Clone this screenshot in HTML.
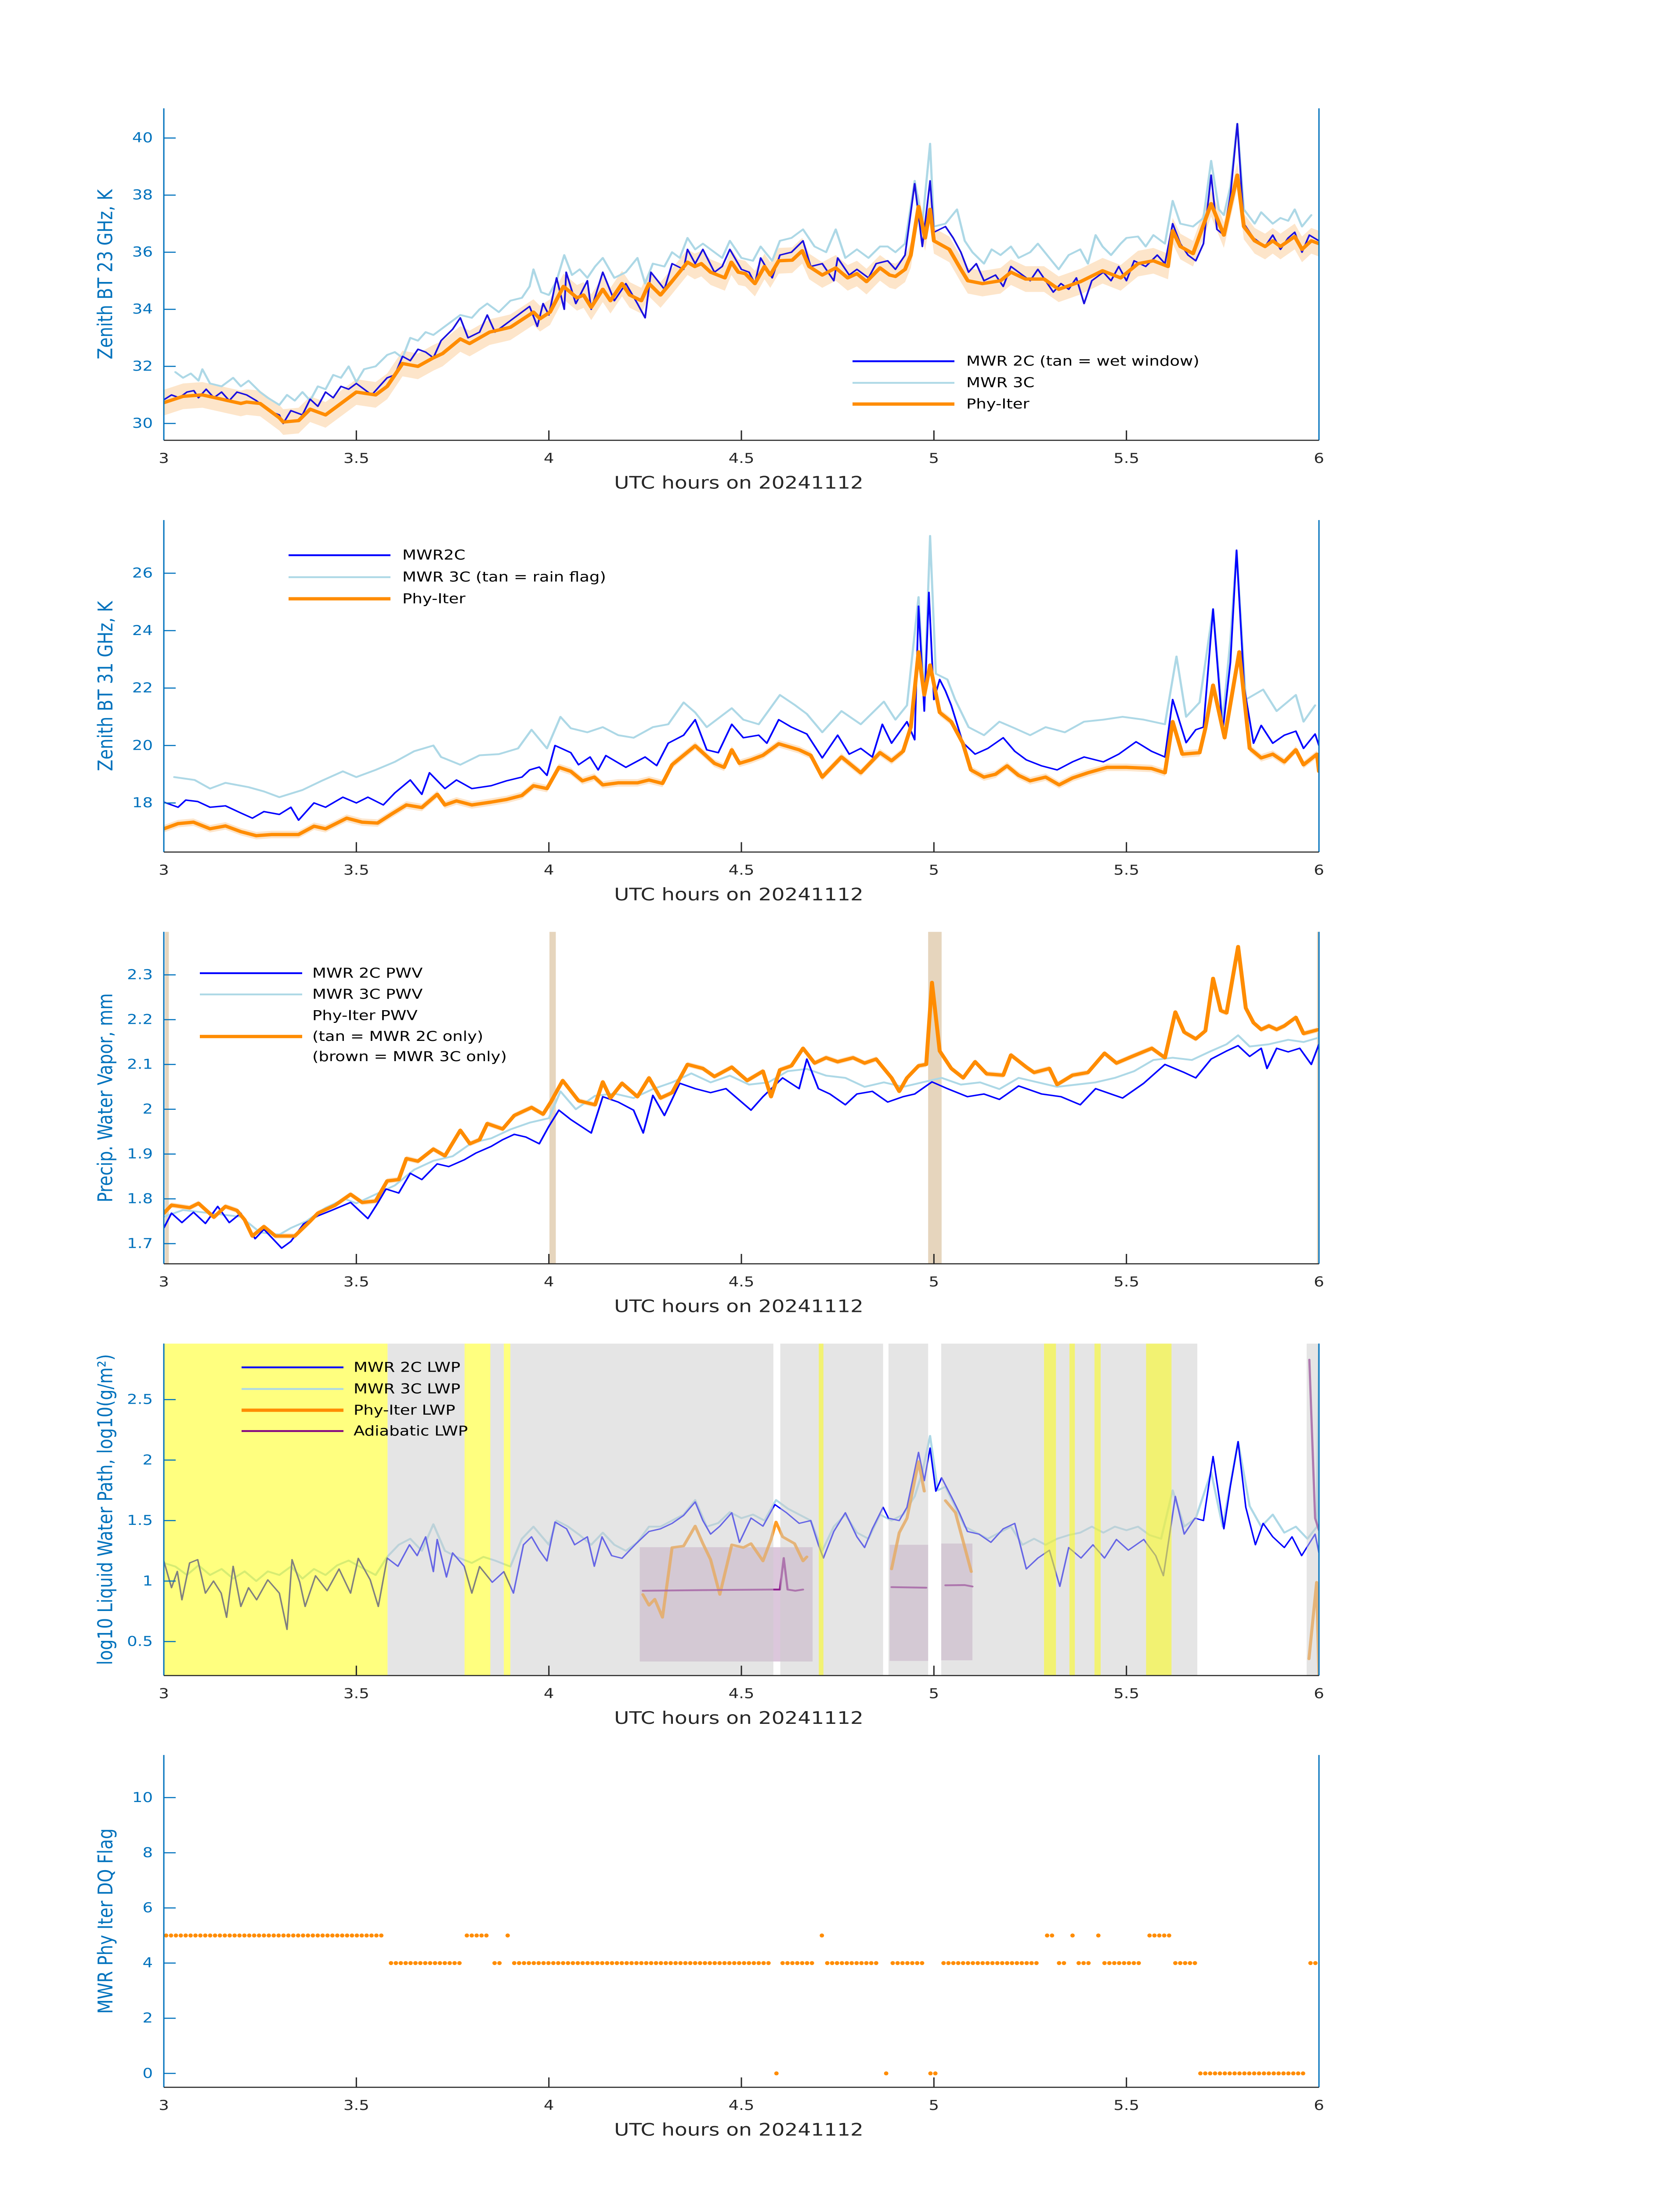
<!DOCTYPE html>
<html><head><meta charset="utf-8"><meta name="viewport" content="width=3825"><title>MWR Phy-Iter comparison 20241112</title>
<style>html,body{margin:0;padding:0;background:#fff;width:100%;height:100%;overflow:hidden}svg{display:block;position:fixed;left:0;top:0;width:100vw;height:100vh}text{font-family:"DejaVu Sans","Liberation Sans",sans-serif}</style>
</head><body>
<svg id="fig" xmlns="http://www.w3.org/2000/svg" viewBox="0 0 3825 6000" preserveAspectRatio="none"><rect width="3825" height="6000" fill="#fff"/></svg>
<script>
// ---------- shared axis ----------
const xTicks = [3, 3.5, 4, 4.5, 5, 5.5, 6];
const xTickLabels = ['3', '3.5', '4', '4.5', '5', '5.5', '6'];

// ---------- Panel 1: BT 23 GHz ----------
const p1Ticks = [30, 32, 34, 36, 38, 40];
const p1TickLabels = ['30', '32', '34', '36', '38', '40'];
const p1Blue = [[3.0,30.83],[3.02,31.0],[3.04,30.9],[3.06,31.1],[3.078,31.15],[3.09,30.9],[3.11,31.2],[3.13,30.9],[3.15,31.1],[3.17,30.8],[3.19,31.1],[3.215,31.0],[3.24,30.8],[3.26,30.6],[3.28,30.4],[3.3,30.3],[3.31,30.0],[3.33,30.45],[3.36,30.3],[3.38,30.85],[3.4,30.6],[3.42,31.1],[3.44,30.9],[3.46,31.3],[3.48,31.2],[3.5,31.4],[3.52,31.2],[3.54,31.0],[3.56,31.3],[3.58,31.6],[3.6,31.7],[3.62,32.35],[3.64,32.2],[3.66,32.6],[3.68,32.5],[3.7,32.3],[3.72,32.9],[3.75,33.3],[3.77,33.7],[3.79,33.0],[3.82,33.2],[3.84,33.8],[3.86,33.2],[3.9,33.6],[3.93,33.9],[3.95,34.1],[3.97,33.4],[3.985,34.2],[4.0,33.8],[4.02,35.1],[4.04,34.0],[4.045,35.3],[4.07,34.2],[4.1,35.0],[4.11,34.0],[4.14,35.3],[4.17,34.3],[4.2,34.9],[4.23,34.2],[4.25,33.7],[4.265,35.3],[4.3,34.7],[4.32,35.6],[4.35,35.4],[4.36,36.1],[4.38,35.6],[4.4,36.1],[4.43,35.3],[4.45,35.5],[4.47,36.1],[4.5,35.4],[4.52,35.3],[4.535,34.9],[4.55,35.8],[4.58,35.1],[4.6,35.9],[4.63,36.0],[4.66,36.4],[4.68,35.5],[4.71,35.6],[4.74,35.0],[4.75,35.8],[4.78,35.2],[4.8,35.4],[4.83,35.1],[4.85,35.6],[4.88,35.7],[4.9,35.4],[4.925,35.9],[4.95,38.4],[4.97,36.2],[4.99,38.5],[5.0,36.7],[5.03,36.9],[5.05,36.5],[5.07,36.0],[5.09,35.3],[5.11,35.6],[5.13,35.0],[5.16,35.2],[5.18,34.8],[5.2,35.5],[5.22,35.3],[5.25,35.0],[5.27,35.4],[5.29,35.0],[5.31,34.6],[5.33,34.9],[5.35,34.7],[5.37,35.1],[5.39,34.2],[5.41,35.0],[5.44,35.3],[5.46,35.0],[5.48,35.5],[5.5,35.0],[5.52,35.7],[5.55,35.5],[5.58,35.9],[5.6,35.6],[5.62,37.0],[5.64,36.3],[5.66,35.9],[5.68,35.7],[5.7,36.3],[5.72,38.7],[5.735,36.8],[5.753,36.6],[5.77,38.0],[5.788,40.5],[5.805,37.0],[5.83,36.5],[5.86,36.2],[5.88,36.6],[5.9,36.1],[5.92,36.5],[5.937,36.7],[5.956,36.0],[5.975,36.6],[6.0,36.4]];
const p1Light = [[3.03,31.8],[3.05,31.6],[3.07,31.75],[3.09,31.5],[3.1,31.9],[3.12,31.4],[3.15,31.3],[3.18,31.6],[3.2,31.3],[3.22,31.5],[3.25,31.1],[3.27,30.9],[3.3,30.65],[3.32,31.0],[3.34,30.8],[3.36,31.1],[3.38,30.8],[3.4,31.3],[3.42,31.2],[3.44,31.7],[3.46,31.6],[3.48,32.0],[3.5,31.45],[3.52,31.9],[3.55,32.0],[3.58,32.4],[3.6,32.5],[3.62,32.3],[3.64,33.0],[3.66,32.9],[3.68,33.2],[3.7,33.1],[3.72,33.3],[3.75,33.6],[3.77,33.8],[3.8,33.7],[3.82,34.0],[3.84,34.2],[3.87,33.9],[3.9,34.3],[3.93,34.4],[3.95,34.8],[3.96,35.4],[3.98,34.6],[4.0,34.5],[4.02,35.0],[4.04,35.9],[4.06,35.2],[4.08,35.4],[4.1,35.1],[4.12,35.5],[4.14,35.8],[4.17,35.1],[4.2,35.3],[4.23,35.8],[4.25,34.9],[4.27,35.6],[4.3,35.5],[4.32,36.0],[4.34,35.8],[4.36,36.5],[4.38,36.1],[4.4,36.3],[4.43,36.0],[4.45,35.8],[4.47,36.4],[4.5,35.8],[4.53,35.7],[4.55,36.2],[4.58,35.7],[4.6,36.4],[4.63,36.5],[4.66,36.8],[4.69,36.2],[4.72,36.0],[4.745,36.8],[4.77,35.8],[4.8,36.1],[4.83,35.8],[4.86,36.2],[4.88,36.2],[4.9,36.0],[4.925,36.3],[4.95,38.5],[4.97,37.0],[4.99,39.8],[5.0,36.9],[5.03,37.0],[5.06,37.5],[5.08,36.4],[5.1,36.0],[5.13,35.6],[5.15,36.1],[5.173,35.9],[5.2,36.2],[5.22,35.8],[5.25,36.0],[5.27,36.3],[5.3,35.8],[5.324,35.4],[5.35,35.9],[5.38,36.1],[5.4,35.6],[5.42,36.6],[5.438,36.2],[5.46,35.9],[5.485,36.3],[5.5,36.5],[5.53,36.55],[5.55,36.2],[5.57,36.6],[5.6,36.3],[5.62,37.8],[5.64,37.0],[5.673,36.9],[5.7,37.2],[5.72,39.2],[5.74,37.5],[5.753,37.3],[5.77,38.3],[5.788,40.5],[5.805,37.5],[5.833,37.0],[5.85,37.4],[5.88,37.0],[5.9,37.2],[5.92,37.1],[5.937,37.5],[5.956,36.9],[5.98,37.3]];
const p1Orange = [[3.0,30.73],[3.05,30.95],[3.1,31.0],[3.15,30.85],[3.2,30.7],[3.215,30.75],[3.25,30.7],[3.3,30.2],[3.31,30.05],[3.35,30.1],[3.38,30.5],[3.42,30.3],[3.45,30.6],[3.5,31.1],[3.55,31.0],[3.58,31.3],[3.62,32.1],[3.66,32.0],[3.7,32.3],[3.724,32.45],[3.77,32.96],[3.794,32.8],[3.846,33.2],[3.9,33.37],[3.96,33.9],[3.977,33.67],[4.003,33.9],[4.038,34.8],[4.073,34.4],[4.09,34.5],[4.11,34.07],[4.14,34.7],[4.16,34.3],[4.19,34.9],[4.21,34.5],[4.24,34.3],[4.26,34.9],[4.29,34.5],[4.318,34.95],[4.36,35.65],[4.379,35.5],[4.396,35.6],[4.42,35.3],[4.457,35.1],[4.474,35.65],[4.492,35.3],[4.51,35.25],[4.535,34.9],[4.56,35.5],[4.575,35.2],[4.597,35.7],[4.632,35.72],[4.658,36.05],[4.676,35.5],[4.71,35.2],[4.745,35.45],[4.776,35.1],[4.8,35.25],[4.825,34.97],[4.86,35.45],[4.885,35.2],[4.9,35.15],[4.925,35.4],[4.94,35.9],[4.96,37.6],[4.977,36.5],[4.99,37.5],[5.0,36.4],[5.04,36.1],[5.07,35.4],[5.088,35.0],[5.126,34.9],[5.173,35.0],[5.2,35.3],[5.238,35.06],[5.286,35.06],[5.324,34.7],[5.381,34.97],[5.438,35.35],[5.485,35.1],[5.53,35.6],[5.57,35.7],[5.608,35.5],[5.62,36.75],[5.64,36.2],[5.673,35.95],[5.72,37.7],[5.753,36.6],[5.788,38.7],[5.805,36.9],[5.833,36.4],[5.86,36.2],[5.88,36.4],[5.9,36.2],[5.937,36.55],[5.956,36.1],[5.98,36.4],[6.0,36.3]];

// ---------- Panel 2: BT 31 GHz ----------
const p2Ticks = [18, 20, 22, 24, 26];
const p2TickLabels = ['18', '20', '22', '24', '26'];
const p2Blue = [[3.0,18.03],[3.037,17.85],[3.057,18.1],[3.088,18.05],[3.12,17.85],[3.16,17.9],[3.2,17.65],[3.23,17.47],[3.26,17.7],[3.3,17.6],[3.33,17.85],[3.35,17.4],[3.39,18.0],[3.42,17.85],[3.465,18.2],[3.5,18.0],[3.53,18.2],[3.57,17.93],[3.6,18.35],[3.64,18.8],[3.67,18.3],[3.69,19.05],[3.73,18.5],[3.76,18.8],[3.8,18.5],[3.85,18.6],[3.89,18.77],[3.93,18.9],[3.95,19.15],[3.975,19.25],[3.995,18.96],[4.016,20.0],[4.057,19.75],[4.077,19.33],[4.107,19.6],[4.128,19.15],[4.148,19.65],[4.2,19.24],[4.25,19.6],[4.28,19.3],[4.31,20.08],[4.35,20.36],[4.38,20.9],[4.41,19.85],[4.44,19.75],[4.475,20.74],[4.505,20.27],[4.545,20.36],[4.566,20.08],[4.597,20.9],[4.63,20.64],[4.67,20.4],[4.71,19.57],[4.75,20.36],[4.78,19.7],[4.81,19.9],[4.84,19.6],[4.866,20.74],[4.89,20.08],[4.93,20.83],[4.95,20.2],[4.96,24.85],[4.975,21.2],[4.987,25.33],[5.0,21.6],[5.015,22.3],[5.03,21.9],[5.045,21.4],[5.075,20.1],[5.107,19.7],[5.14,19.9],[5.18,20.27],[5.21,19.8],[5.24,19.5],[5.28,19.29],[5.32,19.15],[5.36,19.43],[5.39,19.6],[5.44,19.43],[5.48,19.7],[5.525,20.13],[5.565,19.8],[5.6,19.6],[5.62,21.6],[5.655,20.1],[5.68,20.55],[5.7,20.64],[5.725,24.75],[5.75,20.5],[5.77,22.9],[5.786,26.8],[5.806,22.0],[5.83,20.08],[5.85,20.7],[5.88,20.08],[5.91,20.36],[5.94,20.5],[5.96,19.9],[5.99,20.4],[6.0,20.0]];
const p2Light = [[3.027,18.9],[3.08,18.8],[3.12,18.5],[3.16,18.7],[3.22,18.55],[3.26,18.4],[3.3,18.2],[3.36,18.45],[3.41,18.77],[3.465,19.1],[3.5,18.9],[3.55,19.15],[3.6,19.43],[3.65,19.8],[3.7,20.0],[3.72,19.6],[3.77,19.33],[3.82,19.66],[3.87,19.7],[3.92,19.9],[3.955,20.55],[3.995,19.9],[4.03,21.0],[4.057,20.6],[4.1,20.46],[4.14,20.64],[4.18,20.36],[4.22,20.27],[4.27,20.64],[4.31,20.74],[4.35,21.5],[4.38,21.15],[4.41,20.64],[4.475,21.3],[4.505,20.9],[4.545,20.74],[4.6,21.76],[4.64,21.4],[4.67,21.1],[4.71,20.46],[4.76,21.2],[4.81,20.74],[4.87,21.53],[4.9,20.9],[4.93,21.4],[4.96,25.17],[4.975,21.6],[4.99,27.3],[5.005,22.5],[5.035,22.3],[5.055,21.6],[5.09,20.64],[5.13,20.36],[5.17,20.83],[5.21,20.6],[5.25,20.36],[5.29,20.64],[5.34,20.46],[5.39,20.83],[5.44,20.9],[5.49,21.0],[5.545,20.9],[5.6,20.74],[5.63,23.1],[5.655,21.0],[5.69,21.5],[5.725,24.75],[5.75,20.83],[5.77,23.7],[5.786,26.76],[5.81,21.6],[5.855,21.95],[5.89,21.2],[5.94,21.76],[5.96,20.83],[5.99,21.4]];
const p2Orange = [[3.0,17.1],[3.037,17.28],[3.077,17.33],[3.12,17.1],[3.16,17.2],[3.2,17.0],[3.24,16.86],[3.28,16.9],[3.32,16.9],[3.35,16.9],[3.39,17.19],[3.42,17.1],[3.475,17.47],[3.515,17.33],[3.555,17.3],[3.59,17.6],[3.63,17.93],[3.67,17.84],[3.71,18.3],[3.73,17.93],[3.76,18.07],[3.8,17.93],[3.85,18.03],[3.89,18.12],[3.93,18.26],[3.96,18.6],[3.995,18.5],[4.026,19.24],[4.057,19.1],[4.087,18.77],[4.118,18.9],[4.14,18.63],[4.18,18.7],[4.23,18.7],[4.26,18.8],[4.295,18.68],[4.32,19.33],[4.38,19.99],[4.43,19.38],[4.455,19.24],[4.475,19.85],[4.495,19.38],[4.525,19.5],[4.556,19.66],[4.597,20.06],[4.65,19.85],[4.68,19.66],[4.71,18.9],[4.76,19.6],[4.81,19.05],[4.86,19.75],[4.89,19.47],[4.92,19.8],[4.94,20.64],[4.96,23.26],[4.975,21.76],[4.99,22.8],[5.015,21.15],[5.045,20.83],[5.075,20.08],[5.096,19.15],[5.13,18.9],[5.16,19.0],[5.19,19.29],[5.22,18.96],[5.25,18.77],[5.29,18.9],[5.325,18.63],[5.36,18.87],[5.4,19.05],[5.45,19.24],[5.5,19.24],[5.565,19.2],[5.6,19.05],[5.62,20.83],[5.645,19.7],[5.69,19.75],[5.705,20.6],[5.725,22.1],[5.755,20.27],[5.793,23.26],[5.82,19.9],[5.85,19.57],[5.88,19.7],[5.91,19.43],[5.94,19.85],[5.96,19.33],[5.995,19.7],[6.0,19.1]];

// ---------- Panel 3: PWV ----------
const p3Ticks = [1.7, 1.8, 1.9, 2.0, 2.1, 2.2, 2.3];
const p3TickLabels = ['1.7', '1.8', '1.9', '2', '2.1', '2.2', '2.3'];
const p3TanSpans = [[3.003,3.013],[4.0015,4.018],[4.985,5.02],[5.995,6.0]];
const p3Blue = [[3.0,1.735],[3.02,1.768],[3.047,1.747],[3.077,1.77],[3.108,1.745],[3.14,1.783],[3.17,1.747],[3.2,1.768],[3.237,1.711],[3.26,1.732],[3.306,1.69],[3.33,1.705],[3.363,1.744],[3.4,1.762],[3.435,1.774],[3.485,1.792],[3.53,1.756],[3.555,1.79],[3.577,1.822],[3.61,1.813],[3.64,1.857],[3.67,1.843],[3.71,1.878],[3.74,1.872],[3.78,1.887],[3.81,1.902],[3.85,1.917],[3.88,1.932],[3.91,1.944],[3.94,1.938],[3.975,1.923],[4.0,1.962],[4.026,1.998],[4.057,1.977],[4.11,1.947],[4.14,2.028],[4.18,2.016],[4.22,1.998],[4.245,1.947],[4.27,2.031],[4.3,1.986],[4.34,2.058],[4.38,2.046],[4.42,2.037],[4.46,2.046],[4.525,1.998],[4.556,2.028],[4.607,2.07],[4.65,2.046],[4.67,2.112],[4.7,2.046],[4.73,2.034],[4.77,2.01],[4.8,2.034],[4.84,2.04],[4.88,2.016],[4.92,2.028],[4.95,2.034],[4.995,2.061],[5.035,2.046],[5.087,2.028],[5.13,2.034],[5.17,2.022],[5.22,2.052],[5.28,2.034],[5.33,2.028],[5.38,2.01],[5.42,2.046],[5.46,2.034],[5.49,2.025],[5.545,2.058],[5.6,2.1],[5.65,2.082],[5.68,2.07],[5.72,2.112],[5.76,2.13],[5.79,2.142],[5.82,2.118],[5.85,2.136],[5.865,2.091],[5.89,2.136],[5.92,2.128],[5.95,2.136],[5.98,2.1],[6.0,2.145]];
const p3Light = [[3.0,1.76],[3.05,1.775],[3.1,1.77],[3.15,1.765],[3.2,1.76],[3.25,1.725],[3.3,1.72],[3.33,1.735],[3.37,1.75],[3.42,1.78],[3.47,1.8],[3.5,1.79],[3.55,1.81],[3.6,1.83],[3.65,1.865],[3.7,1.885],[3.75,1.895],[3.8,1.925],[3.85,1.935],[3.9,1.955],[3.95,1.97],[4.0,1.98],[4.03,2.04],[4.07,2.0],[4.12,2.03],[4.17,2.035],[4.22,2.025],[4.27,2.045],[4.32,2.06],[4.37,2.08],[4.42,2.06],[4.47,2.075],[4.52,2.055],[4.57,2.06],[4.62,2.085],[4.67,2.09],[4.72,2.075],[4.77,2.07],[4.82,2.05],[4.87,2.06],[4.92,2.05],[4.97,2.06],[5.02,2.07],[5.07,2.055],[5.12,2.06],[5.17,2.045],[5.22,2.07],[5.27,2.06],[5.32,2.05],[5.37,2.055],[5.42,2.06],[5.47,2.07],[5.52,2.085],[5.57,2.11],[5.62,2.115],[5.67,2.11],[5.72,2.13],[5.76,2.145],[5.79,2.165],[5.82,2.14],[5.87,2.145],[5.92,2.155],[5.96,2.15],[6.0,2.16]];
const p3Orange = [[3.0,1.768],[3.02,1.786],[3.067,1.78],[3.09,1.79],[3.13,1.759],[3.16,1.783],[3.19,1.774],[3.21,1.753],[3.23,1.717],[3.26,1.738],[3.29,1.717],[3.34,1.717],[3.38,1.75],[3.4,1.768],[3.445,1.786],[3.485,1.81],[3.515,1.792],[3.55,1.795],[3.58,1.84],[3.61,1.843],[3.63,1.89],[3.66,1.884],[3.7,1.911],[3.73,1.896],[3.77,1.953],[3.795,1.923],[3.82,1.932],[3.84,1.968],[3.88,1.956],[3.91,1.986],[3.955,2.004],[3.985,1.989],[4.005,2.016],[4.036,2.064],[4.077,2.019],[4.12,2.01],[4.14,2.061],[4.16,2.025],[4.19,2.058],[4.23,2.028],[4.26,2.07],[4.29,2.025],[4.32,2.037],[4.36,2.1],[4.4,2.091],[4.43,2.073],[4.475,2.094],[4.515,2.064],[4.556,2.085],[4.577,2.028],[4.6,2.088],[4.63,2.097],[4.66,2.136],[4.69,2.103],[4.72,2.115],[4.75,2.106],[4.79,2.115],[4.82,2.103],[4.85,2.112],[4.89,2.07],[4.91,2.04],[4.93,2.07],[4.96,2.097],[4.98,2.1],[4.995,2.283],[5.015,2.13],[5.045,2.091],[5.076,2.07],[5.107,2.106],[5.137,2.079],[5.18,2.076],[5.2,2.121],[5.24,2.094],[5.26,2.082],[5.3,2.091],[5.32,2.055],[5.36,2.076],[5.4,2.082],[5.443,2.125],[5.474,2.103],[5.515,2.118],[5.566,2.136],[5.6,2.115],[5.627,2.217],[5.65,2.172],[5.68,2.157],[5.705,2.175],[5.725,2.292],[5.745,2.22],[5.76,2.215],[5.79,2.363],[5.81,2.226],[5.83,2.193],[5.85,2.178],[5.87,2.186],[5.89,2.178],[5.91,2.186],[5.94,2.205],[5.96,2.169],[6.0,2.178]];

// ---------- Panel 4: LWP ----------
const p4Ticks = [0.5, 1, 1.5, 2, 2.5];
const p4TickLabels = ['0.5', '1', '1.5', '2', '2.5'];
const p4GraySpans = [[3.581,3.781],[3.848,3.883],[3.9,4.583],[4.601,4.868],[4.882,4.985],[5.019,5.684],[5.968,6.0]];
const p4YellowSpans = [[3.0,3.581],[3.781,3.848],[3.883,3.9],[4.701,4.713],[5.286,5.317],[5.352,5.366],[5.417,5.433],[5.551,5.617]];
const p4AdiabaticBoxes = [[4.236,4.685,0.335,1.28],[4.885,4.985,0.34,1.3],[5.019,5.1,0.345,1.31]];
const p4Blue = [[3.0,1.166],[3.02,0.945],[3.035,1.08],[3.047,0.845],[3.067,1.15],[3.088,1.177],[3.108,0.9],[3.129,1.0],[3.149,0.9],[3.163,0.7],[3.18,1.122],[3.2,0.79],[3.22,0.945],[3.241,0.845],[3.27,1.01],[3.3,0.9],[3.32,0.6],[3.333,1.177],[3.353,0.99],[3.367,0.79],[3.394,1.044],[3.424,0.92],[3.455,1.1],[3.485,0.9],[3.505,1.188],[3.536,1.01],[3.557,0.79],[3.58,1.19],[3.608,1.122],[3.638,1.3],[3.658,1.21],[3.68,1.366],[3.7,1.078],[3.71,1.344],[3.734,1.033],[3.75,1.233],[3.78,1.122],[3.8,0.9],[3.82,1.12],[3.853,0.99],[3.883,1.078],[3.908,0.9],[3.934,1.3],[3.955,1.366],[3.975,1.255],[3.995,1.166],[4.016,1.488],[4.046,1.432],[4.067,1.3],[4.1,1.366],[4.118,1.122],[4.138,1.366],[4.163,1.21],[4.19,1.188],[4.21,1.255],[4.23,1.32],[4.26,1.41],[4.29,1.432],[4.32,1.477],[4.35,1.543],[4.38,1.654],[4.4,1.5],[4.42,1.388],[4.444,1.454],[4.475,1.565],[4.495,1.32],[4.525,1.521],[4.556,1.454],[4.587,1.632],[4.617,1.565],[4.65,1.477],[4.68,1.5],[4.7,1.3],[4.713,1.19],[4.74,1.41],[4.77,1.565],[4.8,1.366],[4.82,1.277],[4.84,1.432],[4.868,1.61],[4.882,1.52],[4.91,1.5],[4.93,1.61],[4.96,2.064],[4.975,1.83],[4.99,2.1],[5.005,1.743],[5.02,1.854],[5.045,1.7],[5.066,1.565],[5.087,1.41],[5.117,1.388],[5.148,1.32],[5.18,1.432],[5.21,1.477],[5.24,1.1],[5.27,1.19],[5.3,1.255],[5.327,0.956],[5.35,1.277],[5.382,1.19],[5.413,1.3],[5.443,1.19],[5.474,1.344],[5.505,1.255],[5.545,1.344],[5.576,1.21],[5.596,1.044],[5.627,1.7],[5.65,1.388],[5.678,1.52],[5.7,1.5],[5.725,2.03],[5.753,1.432],[5.77,1.787],[5.79,2.153],[5.81,1.61],[5.835,1.3],[5.855,1.477],[5.88,1.366],[5.91,1.277],[5.93,1.366],[5.955,1.21],[5.99,1.388],[6.0,1.233]];
const p4Light = [[3.0,1.15],[3.03,1.12],[3.06,1.05],[3.09,1.13],[3.12,1.05],[3.15,1.1],[3.18,1.02],[3.21,1.08],[3.24,1.0],[3.27,1.08],[3.3,1.05],[3.33,1.12],[3.36,1.02],[3.39,1.1],[3.42,1.05],[3.45,1.13],[3.48,1.17],[3.52,1.1],[3.55,1.05],[3.58,1.2],[3.61,1.3],[3.64,1.35],[3.67,1.25],[3.7,1.47],[3.73,1.25],[3.76,1.2],[3.8,1.15],[3.83,1.2],[3.86,1.17],[3.9,1.12],[3.93,1.35],[3.96,1.45],[4.0,1.3],[4.02,1.5],[4.05,1.45],[4.08,1.38],[4.11,1.3],[4.14,1.4],[4.17,1.3],[4.2,1.25],[4.23,1.32],[4.26,1.45],[4.29,1.45],[4.32,1.5],[4.35,1.55],[4.38,1.67],[4.41,1.45],[4.44,1.48],[4.47,1.57],[4.5,1.52],[4.53,1.55],[4.56,1.5],[4.59,1.67],[4.62,1.6],[4.65,1.55],[4.68,1.5],[4.71,1.25],[4.74,1.45],[4.77,1.55],[4.8,1.4],[4.83,1.35],[4.86,1.55],[4.89,1.5],[4.92,1.55],[4.95,1.7],[4.97,1.9],[4.99,2.2],[5.01,1.75],[5.03,1.78],[5.05,1.65],[5.08,1.45],[5.11,1.4],[5.14,1.35],[5.17,1.4],[5.2,1.45],[5.23,1.3],[5.26,1.35],[5.29,1.3],[5.32,1.35],[5.35,1.38],[5.38,1.4],[5.41,1.45],[5.44,1.4],[5.47,1.45],[5.5,1.42],[5.53,1.45],[5.56,1.38],[5.59,1.35],[5.62,1.75],[5.65,1.45],[5.68,1.52],[5.72,1.9],[5.75,1.45],[5.79,2.15],[5.82,1.62],[5.85,1.45],[5.88,1.55],[5.91,1.4],[5.94,1.45],[5.97,1.35],[5.995,1.45],[6.0,2.96]];
const p4Orange = [[4.244,0.889],[4.26,0.8],[4.275,0.85],[4.295,0.7],[4.32,1.277],[4.35,1.29],[4.38,1.455],[4.4,1.31],[4.42,1.177],[4.444,0.889],[4.475,1.3],[4.505,1.277],[4.525,1.31],[4.556,1.166],[4.577,1.344],[4.59,1.488],[4.607,1.366],[4.638,1.31],[4.66,1.166],[4.67,1.2],null,[4.89,1.1],[4.91,1.4],[4.93,1.52],[4.96,1.987],[4.975,1.743],null,[5.03,1.665],[5.056,1.565],[5.097,1.078],null,[5.974,0.357],[5.994,0.99],[6.0,0.22]];
const p4Adiabatic = [[4.244,0.92],[4.4,0.925],[4.58,0.93],[4.6,0.93],[4.61,1.19],[4.62,0.93],[4.64,0.92],[4.66,0.93],null,[4.89,0.95],[4.98,0.945],null,[5.03,0.965],[5.08,0.967],[5.1,0.955],null,[5.975,2.83],[5.99,1.52],[6.0,1.42]];

// ---------- Panel 5: DQ flag ----------
const p5Ticks = [0, 2, 4, 6, 8, 10];
const p5TickLabels = ['0', '2', '4', '6', '8', '10'];
const dqSegStart = [3.006,3.787,3.893,4.709,5.294,5.36,5.427,5.56, 3.59,3.859,3.91,4.607,4.723,4.893,5.025,5.325,5.376,5.443,5.627,5.978, 4.591,4.876,4.991,5.692];
const dqSegEnd   = [3.577,3.842,3.893,4.709,5.31,5.36,5.427,5.611, 3.775,3.877,4.577,4.689,4.856,4.974,5.274,5.34,5.407,5.541,5.678,6.0, 4.591,4.876,5.009,5.959];
const dqSegValue = [5,5,5,5,5,5,5,5, 4,4,4,4,4,4,4,4,4,4,4,4, 0,0,0,0];
const DQ_SAMPLE_HOURS = 0.0127;

// ---------- rendering ----------
const NS = 'http://www.w3.org/2000/svg';
const svg = document.getElementById('fig');
const X0 = 373, X1 = 3003;
function xs(h){ return X0 + (h - 3) / 3 * (X1 - X0); }
function ys(P, v){ return P.top + (P.ymax - v) / (P.ymax - P.ymin) * (P.bot - P.top); }
function mk(parent, tag, attrs){ const e = document.createElementNS(NS, tag); for (const k in attrs) e.setAttribute(k, attrs[k]); parent.appendChild(e); return e; }
function pathD(P, pts){ let d = '', pen = false; for (const p of pts){ if (!p){ pen = false; continue; } d += (pen ? 'L' : 'M') + xs(p[0]).toFixed(1) + ' ' + ys(P, p[1]).toFixed(1); pen = true; } return d; }
function bandD(P, pts, up, dn){ let d = ''; let seg = []; const flush = () => { if (seg.length > 1){ const top = seg.map(p => xs(p[0]).toFixed(1) + ' ' + ys(P, p[1] + up).toFixed(1)); const bot = seg.slice().reverse().map(p => xs(p[0]).toFixed(1) + ' ' + ys(P, p[1] - dn).toFixed(1)); d += 'M' + top.join('L') + 'L' + bot.join('L') + 'Z'; } seg = []; }; for (const p of pts){ if (!p) flush(); else seg.push(p); } flush(); return d; }

const panels = [
  {id:'bt23', top:296, bot:1203, ymin:29.41, ymax:41.04, ticks:p1Ticks, labels:p1TickLabels, title:'Zenith BT 23 GHz, K'},
  {id:'bt31', top:1421, bot:2328, ymin:16.29, ymax:27.85, ticks:p2Ticks, labels:p2TickLabels, title:'Zenith BT 31 GHz, K'},
  {id:'pwv', top:2546, bot:3453, ymin:1.655, ymax:2.396, ticks:p3Ticks, labels:p3TickLabels, title:'Precip. Water Vapor, mm'},
  {id:'lwp', top:3671, bot:4578, ymin:0.219, ymax:2.963, ticks:p4Ticks, labels:p4TickLabels, title:'log10 Liquid Water Path, log10(g/m\u00B2)'},
  {id:'dq', top:4795, bot:5703, ymin:-0.504, ymax:11.546, ticks:p5Ticks, labels:p5TickLabels, title:'MWR Phy Iter DQ Flag'}
];

const defs = mk(svg, 'defs', {});
panels.forEach(P => {
  const cp = mk(defs, 'clipPath', {id:'clip-' + P.id});
  mk(cp, 'rect', {x:X0, y:P.top, width:X1 - X0, height:P.bot - P.top});
  P.g = mk(svg, 'g', {});
  
  
  P.plot = mk(P.g, 'g', {'clip-path':'url(#clip-' + P.id + ')'});
  
  
});

function series(P, pts, color, w, name, opacity){
  const e = mk(P.plot, 'path', {d:pathD(P, pts), fill:'none', stroke:color, 'stroke-width':w, 'stroke-linejoin':'round', 'stroke-linecap':'round', opacity:(opacity || 1)});
  
  
  return e;
}
function band(P, pts, up, dn, name){
  const e = mk(P.plot, 'path', {d:bandD(P, pts, up, dn), fill:'#fde2c4', stroke:'none', opacity:0.9});
  
  
}
function span(P, a, b, color, op, name){
  const e = mk(P.plot, 'rect', {x:xs(a), y:P.top, width:Math.max(xs(b) - xs(a), 4), height:P.bot - P.top, fill:color, opacity:op});
  
  
}

// Panel 1
const P1 = panels[0];
band(P1, p1Orange, 0.45, 0.45, 'phy-iter-uncertainty-band');
series(P1, p1Light, '#add8e6', 5, 'mwr-3c-line');
series(P1, p1Blue, '#1a10e0', 4, 'mwr-2c-line');
series(P1, p1Orange, '#ff8c00', 9, 'phy-iter-line');

// Panel 2
const P2 = panels[1];
band(P2, p2Orange, 0.13, 0.13, 'phy-iter-uncertainty-band');
series(P2, p2Light, '#add8e6', 5, 'mwr-3c-line');
series(P2, p2Blue, '#0000ff', 4, 'mwr-2c-line');
series(P2, p2Orange, '#ff8c00', 9, 'phy-iter-line');

// Panel 3
const P3 = panels[2];
p3TanSpans.forEach(s => span(P3, s[0], s[1], '#e6d5bd', 1, 'mwr-2c-only-span'));
band(P3, p3Orange, 0.006, 0.006, 'phy-iter-uncertainty-band');
series(P3, p3Light, '#add8e6', 5, 'mwr-3c-pwv-line');
series(P3, p3Blue, '#0000ff', 4, 'mwr-2c-pwv-line');
series(P3, p3Orange, '#ff8c00', 9, 'phy-iter-pwv-line');

// Panel 4
const P4 = panels[3];
p4AdiabaticBoxes.forEach(b => {
  const e = mk(P4.plot, 'rect', {x:xs(b[0]), y:ys(P4, b[3]), width:xs(b[1]) - xs(b[0]), height:ys(P4, b[2]) - ys(P4, b[3]), fill:'#c4a2c4', opacity:0.6});
  
  
});
series(P4, p4Light, '#add8e6', 5, 'mwr-3c-lwp-line');
series(P4, p4Blue, '#0000ff', 3.5, 'mwr-2c-lwp-line');
series(P4, p4Orange, '#ff8c00', 7, 'phy-iter-lwp-line', 0.85);
series(P4, p4Adiabatic, '#800080', 5, 'adiabatic-lwp-line', 0.85);
p4GraySpans.forEach(s => span(P4, s[0], s[1], '#cccccc', 0.5, 'gray-flag-span'));
p4YellowSpans.forEach(s => span(P4, s[0], s[1], '#ffff00', 0.5, 'yellow-flag-span'));

// Panel 5
const P5 = panels[4];
for (let i = 0; i < dqSegStart.length; i++){
  for (let t = dqSegStart[i]; t <= dqSegEnd[i] + 1e-6; t += DQ_SAMPLE_HOURS){
    const e = mk(P5.plot, 'ellipse', {cx:xs(t), cy:ys(P5, dqSegValue[i]), rx:5, ry:5.5, fill:'#ff8c00'});
    
    
  }
}

// Axes
panels.forEach(P => {
  const ax = mk(P.g, 'g', {});
  
  
  mk(ax, 'line', {x1:X0, y1:P.top, x2:X0, y2:P.bot, stroke:'#0072bd', 'stroke-width':3});
  mk(ax, 'line', {x1:X1, y1:P.top, x2:X1, y2:P.bot, stroke:'#0072bd', 'stroke-width':3});
  mk(ax, 'line', {x1:X0, y1:P.bot, x2:X1, y2:P.bot, stroke:'#262626', 'stroke-width':3});
  P.ticks.forEach((v, i) => {
    const y = ys(P, v);
    mk(ax, 'line', {x1:X0, y1:y, x2:X0 + 27, y2:y, stroke:'#0072bd', 'stroke-width':3});
    const t = mk(ax, 'text', {x:X0 - 25, y:y, 'text-anchor':'end', 'dominant-baseline':'central', 'font-size':37, fill:'#0072bd'});
    t.textContent = P.labels[i];
    
    
  });
  xTicks.forEach((h, i) => {
    const x = xs(h);
    if (i > 0 && i < xTicks.length - 1) mk(ax, 'line', {x1:x, y1:P.bot, x2:x, y2:P.bot - 27, stroke:'#262626', 'stroke-width':3});
    const t = mk(ax, 'text', {x:x, y:P.bot + 50, 'text-anchor':'middle', 'dominant-baseline':'central', 'font-size':37, fill:'#262626'});
    t.textContent = xTickLabels[i];
    
    
  });
  const xt = mk(ax, 'text', {x:(X0 + X1) / 2 - 6, y:P.bot + 117, 'text-anchor':'middle', 'dominant-baseline':'central', 'font-size':47, fill:'#262626'});
  xt.textContent = 'UTC hours on 20241112';
  
  
  const cy = (P.top + P.bot) / 2;
  const yt = mk(ax, 'text', {x:240, y:cy, 'text-anchor':'middle', 'dominant-baseline':'central', 'font-size':46, fill:'#0072bd', transform:'rotate(-90 240 ' + cy + ')'});
  yt.textContent = P.title;
  
  
});

// Legends
function legend(P, x1, x2, tx, rows){
  const g = mk(P.g, 'g', {});
  
  
  rows.forEach(r => {
    if (r.color) mk(g, 'line', {x1:x1, y1:r.y, x2:x2, y2:r.y, stroke:r.color, 'stroke-width':r.w});
    if (r.label){
      const t = mk(g, 'text', {x:tx, y:r.y, 'dominant-baseline':'central', 'font-size':37, fill:'#000'});
      t.textContent = r.label;
      
      
    }
  });
}
legend(P1, 1941, 2173, 2200, [{y:987, color:'#0000ff', w:5, label:'MWR 2C (tan = wet window)'}, {y:1046, color:'#add8e6', w:5, label:'MWR 3C'}, {y:1104, color:'#ff8c00', w:9, label:'Phy-Iter'}]);
legend(P2, 657, 889, 916, [{y:1517, color:'#0000ff', w:5, label:'MWR2C'}, {y:1577, color:'#add8e6', w:5, label:'MWR 3C (tan = rain flag)'}, {y:1636, color:'#ff8c00', w:9, label:'Phy-Iter'}]);
legend(P3, 455, 688, 711, [{y:2659, color:'#0000ff', w:5, label:'MWR 2C PWV'}, {y:2717, color:'#add8e6', w:5, label:'MWR 3C PWV'}, {y:2775, color:null, label:'Phy-Iter PWV'}, {y:2832, color:'#ff8c00', w:9, label:'(tan = MWR 2C only)'}, {y:2887, color:null, label:'(brown = MWR 3C only)'}]);
legend(P4, 550, 782, 805, [{y:3736, color:'#0000ff', w:5, label:'MWR 2C LWP'}, {y:3795, color:'#add8e6', w:5, label:'MWR 3C LWP'}, {y:3853, color:'#ff8c00', w:9, label:'Phy-Iter LWP'}, {y:3910, color:'#800080', w:5, label:'Adiabatic LWP'}]);
</script>
</body></html>
